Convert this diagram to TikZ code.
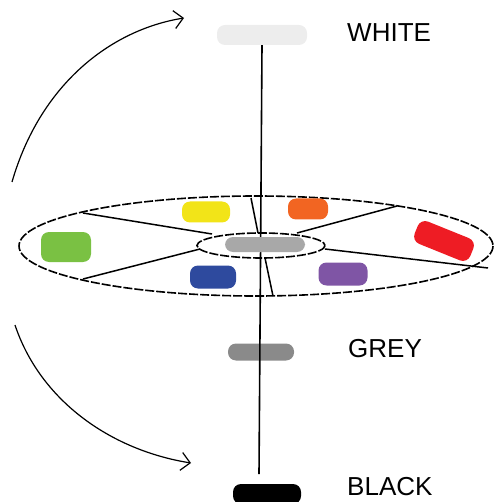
\documentclass[tikz,border=0pt]{standalone}
\usepackage{fontspec}
\setmainfont{Liberation Sans}
\usetikzlibrary{arrows.meta,shapes.geometric}
\definecolor{cwhite}{HTML}{EDEDED}
\definecolor{cgreyc}{HTML}{A8A8A8}
\definecolor{cgrey}{HTML}{8A8A8A}
\definecolor{cyellow}{HTML}{F2E418}
\definecolor{corange}{HTML}{F26522}
\definecolor{cred}{HTML}{EE1C24}
\definecolor{cgreen}{HTML}{7AC143}
\definecolor{cblue}{HTML}{2E4A9E}
\definecolor{cpurple}{HTML}{7F55A5}
\tikzset{
  blob/.style={rectangle, rounded corners=8pt, inner sep=0pt, draw=none},
  wheel/.style={line width=1.6pt, dash pattern=on 9pt off 2pt},
  spoke/.style={line width=1.5pt},
  axisline/.style={line width=1.6pt},
  turn/.style={line width=1.2pt, -{Straight Barb[length=9pt,width=18pt,line width=1.2pt]}},
  lbl/.style={anchor=base west, inner sep=0pt, font=\fontsize{26}{30}\selectfont}
}
\begin{document}
\begin{tikzpicture}[x=1pt,y=-1pt]
\useasboundingbox (0,0) rectangle (495,502);
% wheel
\draw[wheel] (256,246) ellipse [x radius=237, y radius=50];
\draw[wheel] (261,245.5) ellipse [x radius=64, y radius=12.5];
\draw[spoke] (251,198) -- (258,233);
\draw[spoke] (265,258) -- (273,296);
\draw[spoke] (83,213) -- (212,234);
\draw[spoke] (297,233) -- (397,206);
\draw[spoke] (200,249) -- (83,279);
\draw[spoke] (325,249) -- (488,268);
% blobs
\node[blob, fill=cwhite, minimum width=90, minimum height=20] (white) at (262,35) {};
\node[blob, fill=cgrey, minimum width=66, minimum height=17] (grey) at (261,352) {};
\node[blob, fill=black, minimum width=68, minimum height=20] (black) at (267,494) {};
\coordinate (axisend) at (259,474);
\draw[axisline] (white.south) -- (axisend);
\node[blob, fill=cgreyc, minimum width=80, minimum height=15] (centre) at (265,244.5) {};
\node[blob, fill=cyellow, minimum width=48, minimum height=21] (yellow) at (206,212) {};
\node[blob, fill=corange, minimum width=40, minimum height=21] (orange) at (308,209) {};
\node[blob, fill=cred, minimum width=60, minimum height=24, rotate=-22] (red) at (444,241) {};
\node[blob, fill=cgreen, minimum width=50, minimum height=30] (green) at (66,247) {};
\node[blob, fill=cblue, minimum width=46, minimum height=23] (blue) at (213,277) {};
\node[blob, fill=cpurple, minimum width=49, minimum height=23] (purple) at (343,274) {};
% labels
\node[lbl] (lwhite) at (347,42) {WHITE};
\node[lbl] (lgrey) at (348,357) {GREY};
\node[lbl] (lblack) at (347,495) {BLACK};
% arrows
\coordinate (a1s) at (12,182);
\coordinate (a1e) at (184,18);
\draw[turn] (a1s) .. controls (40,85) and (110,30) .. (a1e);
\coordinate (a2s) at (15,325);
\coordinate (a2e) at (191,463);
\draw[turn] (a2s) .. controls (40,400) and (110,450) .. (a2e);
\end{tikzpicture}
\end{document}
